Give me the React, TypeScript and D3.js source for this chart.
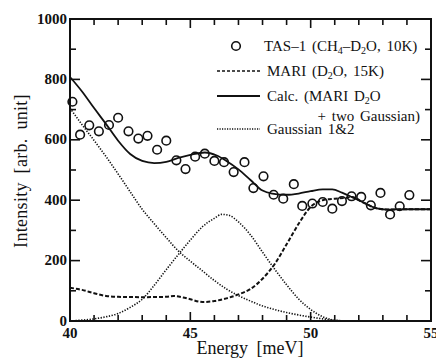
import React from "react";
import * as d3 from "d3";

// TAS-1 data points (Energy meV, Intensity)
const tasE = [40.1, 40.42, 40.8, 41.2, 41.62, 42.0, 42.43, 42.84, 43.22, 43.62, 44.0, 44.42, 44.8, 45.2, 45.6, 46.0, 46.4, 46.8, 47.25, 47.62, 48.04, 48.46, 48.86, 49.3, 49.65, 50.07, 50.5, 50.9, 51.3, 51.7, 52.1, 52.5, 52.9, 53.3, 53.7, 54.1];
const tasI = [726, 617, 648, 628, 649, 673, 628, 604, 613, 567, 597, 532, 503, 544, 554, 530, 526, 493, 526, 440, 479, 418, 405, 453, 381, 389, 394, 372, 397, 413, 411, 383, 424, 353, 380, 417];

// Calc (MARI D2O + two Gaussian)
const calcE = [40.0, 40.5, 41.0, 41.5, 42.0, 42.5, 43.0, 43.5, 44.0, 44.5, 45.0, 45.6, 46.1, 46.5, 47.0, 47.5, 48.0, 48.4, 49.0, 49.5, 50.0, 50.5, 50.9, 51.3, 51.7, 52.2, 52.7, 53.2, 54.0, 55.0];
const calcI = [808, 760, 705, 652, 597, 553, 530, 523, 527, 540, 550, 558, 548, 530, 502, 467, 432, 422, 418, 422, 430, 436, 436, 425, 411, 392, 374, 369, 370, 370];

// MARI (D2O, 15K)
const mariE = [40.0, 40.5, 41.0, 41.5, 42.0, 43.0, 44.0, 44.3, 44.7, 45.0, 45.5, 46.0, 46.5, 47.0, 47.5, 48.0, 48.5, 49.0, 49.5, 50.0, 50.5, 51.0, 51.5, 51.7, 52.2, 52.7, 53.2, 54.0, 55.0];
const mariI = [110, 103, 92, 83, 80, 79, 80, 83, 78, 72, 63, 66, 75, 88, 106, 140, 188, 254, 322, 378, 400, 405, 408, 411, 392, 374, 369, 370, 370];

// Gaussian 1
const g1E = [40.0, 40.5, 41.0, 41.5, 42.0, 42.5, 43.0, 43.5, 44.0, 44.5, 45.0, 45.5, 46.0, 46.5, 47.0, 47.5, 48.0, 48.5, 49.0, 49.5, 50.0, 50.5, 51.0, 51.5];
const g1I = [705, 650, 598, 544, 487, 428, 370, 322, 276, 232, 198, 166, 134, 106, 84, 66, 50, 38, 28, 20, 13, 7, 2, 0];

// Gaussian 2
const g2E = [40.0, 40.5, 41.0, 41.5, 42.0, 42.5, 43.0, 43.5, 44.0, 44.5, 45.0, 45.5, 46.0, 46.3, 46.6, 47.0, 47.5, 48.0, 48.5, 49.0, 49.5, 50.0, 50.5, 51.0, 51.5];
const g2I = [0, 3, 7, 14, 25, 45, 72, 118, 170, 220, 268, 312, 340, 353, 350, 328, 285, 228, 172, 120, 73, 38, 14, 3, 0];

const xTickLabels = [40, 45, 50, 55];
const yTickLabels = [0, 200, 400, 600, 800, 1000];
const xMinor = d3.range(40, 56, 1);
const yMinor = d3.range(0, 1001, 100);

const W = 436, H = 358;
const L = 70, R = 431, T = 19, B = 321;

const FONT = "'Liberation Serif', 'Times New Roman', serif";

export default function App() {
  const x = d3.scaleLinear().domain([40, 55]).range([L, R]);
  const y = d3.scaleLinear().domain([0, 1000]).range([B, T]);
  const line = d3
    .line<[number, number]>()
    .x((d) => x(d[0]))
    .y((d) => y(d[1]))
    .curve(d3.curveMonotoneX);
  const zip = (a: number[], b: number[]) => a.map((v, i) => [v, b[i]] as [number, number]);

  return (
    <svg width={W} height={H} style={{ position: "absolute", left: 0, top: 0, background: "#fff" }} fontFamily={FONT}>
      <defs>
        <clipPath id="plot">
          <rect x={L} y={T} width={R - L} height={B - T} />
        </clipPath>
      </defs>
      <rect x={0} y={0} width={W} height={H} fill="#fff" />
      {/* curves */}
      <g clipPath="url(#plot)" fill="none" stroke="#111">
        <path d={line(zip(g1E, g1I)) || ""} strokeWidth={1.6} strokeDasharray="1.3 1.5" />
        <path d={line(zip(g2E, g2I)) || ""} strokeWidth={1.6} strokeDasharray="1.3 1.5" />
        <path d={line(zip(mariE, mariI)) || ""} strokeWidth={2} strokeDasharray="4 2" />
        <path d={line(zip(calcE, calcI)) || ""} strokeWidth={1.8} />
      </g>
      {/* points */}
      <g fill="none" stroke="#111" strokeWidth={1.6}>
        {tasE.map((e, i) => (
          <circle key={i} cx={x(e)} cy={y(tasI[i])} r={4.3} />
        ))}
      </g>
      {/* frame */}
      <rect x={L} y={T} width={R - L} height={B - T} fill="none" stroke="#111" strokeWidth={2} />
      {/* ticks */}
      <g stroke="#111" strokeWidth={1.6}>
        {xMinor.map((v) => {
          const len = v % 5 === 0 ? 9 : 6;
          return (
            <g key={v}>
              <line x1={x(v)} x2={x(v)} y1={B} y2={B - len} />
              <line x1={x(v)} x2={x(v)} y1={T} y2={T + len} />
            </g>
          );
        })}
        {yMinor.map((v) => {
          const len = v % 200 === 0 ? 10 : 6;
          return (
            <g key={v}>
              <line x1={L} x2={L + len} y1={y(v)} y2={y(v)} />
              <line x1={R} x2={R - len} y1={y(v)} y2={y(v)} />
            </g>
          );
        })}
      </g>
      {/* tick labels */}
      <g fontSize={15} fontWeight="bold" fill="#111">
        {xTickLabels.map((v) => (
          <text key={v} x={x(v)} y={338} textAnchor="middle">
            {v}
          </text>
        ))}
        {yTickLabels.map((v) => (
          <text key={v} x={67} y={y(v) + 4.5} textAnchor="end">
            {v}
          </text>
        ))}
      </g>
      {/* axis titles */}
      <text x={250} y={354} textAnchor="middle" fontSize={18} fill="#111" wordSpacing={4}>
        Energy [meV]
      </text>
      <text
        transform={`translate(27,171) rotate(-90)`}
        textAnchor="middle"
        fontSize={18}
        fill="#111"
        wordSpacing={4}
        letterSpacing={0.3}
      >
        Intensity [arb. unit]
      </text>
      {/* legend */}
      <g fontSize={15} fill="#111" wordSpacing={2}>
        <circle cx={236} cy={46} r={4.3} fill="none" stroke="#111" strokeWidth={1.6} />
        <text x={264} y={51}>
          TAS–1 (CH<tspan fontSize={10} dy={3}>4</tspan>
          <tspan dy={-3}>–D</tspan>
          <tspan fontSize={10} dy={3}>2</tspan>
          <tspan dy={-3}>O, 10K)</tspan>
        </text>
        <line x1={217} x2={260} y1={71} y2={71} stroke="#111" strokeWidth={1.6} strokeDasharray="3 2" />
        <text x={267} y={76}>
          MARI (D<tspan fontSize={10} dy={3}>2</tspan>
          <tspan dy={-3}>O, 15K)</tspan>
        </text>
        <line x1={217} x2={260} y1={96} y2={96} stroke="#111" strokeWidth={1.8} />
        <text x={267} y={101}>
          Calc. (MARI D<tspan fontSize={10} dy={3}>2</tspan>
          <tspan dy={-3}>O</tspan>
        </text>
        <text x={420} y={121} textAnchor="end">
          + two Gaussian)
        </text>
        <line x1={217} x2={260} y1={129} y2={129} stroke="#111" strokeWidth={1.4} strokeDasharray="1.2 1.3" />
        <text x={267} y={134}>
          Gaussian 1&amp;2
        </text>
      </g>
    </svg>
  );
}
